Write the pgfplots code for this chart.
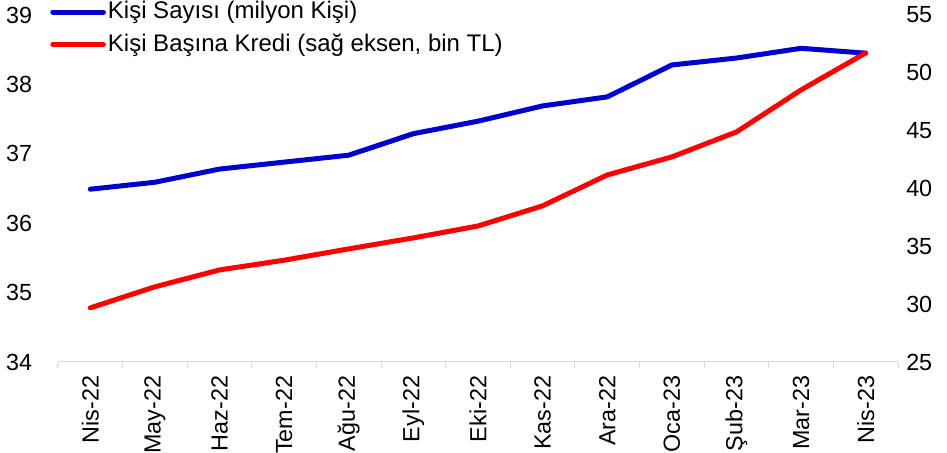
\documentclass[border=0pt]{standalone}
\usepackage{pgfplots}
\pgfplotsset{compat=1.18}
\usepackage{pgfplotstable}
\usepackage{fontspec}
\setmainfont{Liberation Sans}
\definecolor{cblue}{RGB}{0,0,204}
\definecolor{cred}{RGB}{255,0,0}
\definecolor{axgray}{RGB}{217,217,217}

\pgfplotstableread{
x cnt krd
0 36.49 29.68
1 36.59 31.50
2 36.78 32.96
3 36.88 33.80
4 36.98 34.78
5 37.29 35.73
6 37.47 36.76
7 37.69 38.50
8 37.82 41.17
9 38.28 42.73
10 38.38 44.89
11 38.52 48.52
12 38.45 51.72
}\datatable

\begin{document}
\fontsize{18}{21}\selectfont
\begin{tikzpicture}
\useasboundingbox (-43.5pt,-68.25pt) rectangle (666.75pt,271.5pt);
\pgfplotsset{common/.style={
  scale only axis, width=630pt, height=260.25pt,
  xmin=-0.5, xmax=12.5,
  /pgf/number format/assume math mode=true,
  tick label style={font=\fontsize{17.5}{21}\selectfont},
  ytick style={draw=none},
  y axis line style={draw=none},
}}
\begin{axis}[common,
  ymin=34, ymax=39, ytick={34,35,...,39},
  axis x line*=bottom, axis y line*=left,
  x axis line style={draw=axgray, line width=0.75pt},
  xtick={0,...,12},
  xticklabels={Nis-22,May-22,Haz-22,Tem-22,Ağu-22,Eyl-22,Eki-22,Kas-22,Ara-22,Oca-23,Şub-23,Mar-23,Nis-23},
  major x tick style={draw=none},
  minor xtick={-0.5,0.5,...,12.5},
  minor x tick style={draw=axgray, line width=0.75pt},
  tick align=outside,
  minor tick length=4.5pt,
  xticklabel style={rotate=90, anchor=east, yshift=0pt},
  yticklabel style={xshift=-9pt},
]
\addplot[cblue, line width=3.75pt, line join=round, line cap=round] table[x=x, y=cnt] {\datatable};
\end{axis}
\begin{axis}[common,
  ymin=25, ymax=55, ytick={25,30,...,55},
  axis y line*=right, hide x axis,
  legend image code/.code={\draw[#1, line cap=round] (2pt,0pt) -- (40pt,0pt);},
  legend style={draw=none, fill=none, at={(0,1)}, anchor=north west,
    xshift=-6pt, yshift=11.75pt, inner sep=0pt,
    nodes={inner sep=1.5pt}, row sep=5.5pt,
    font=\fontsize{18}{21}\selectfont},
  legend cell align=left,
]
\addlegendimage{cblue, line width=3.75pt}
\addlegendentry{Kişi Sayısı (milyon Kişi)}
\addplot[cred, line width=3.75pt, line join=round, line cap=round] table[x=x, y=krd] {\datatable};
\addlegendentry{Kişi Başına Kredi (sağ eksen, bin TL)}
\end{axis}
\end{tikzpicture}
\end{document}
